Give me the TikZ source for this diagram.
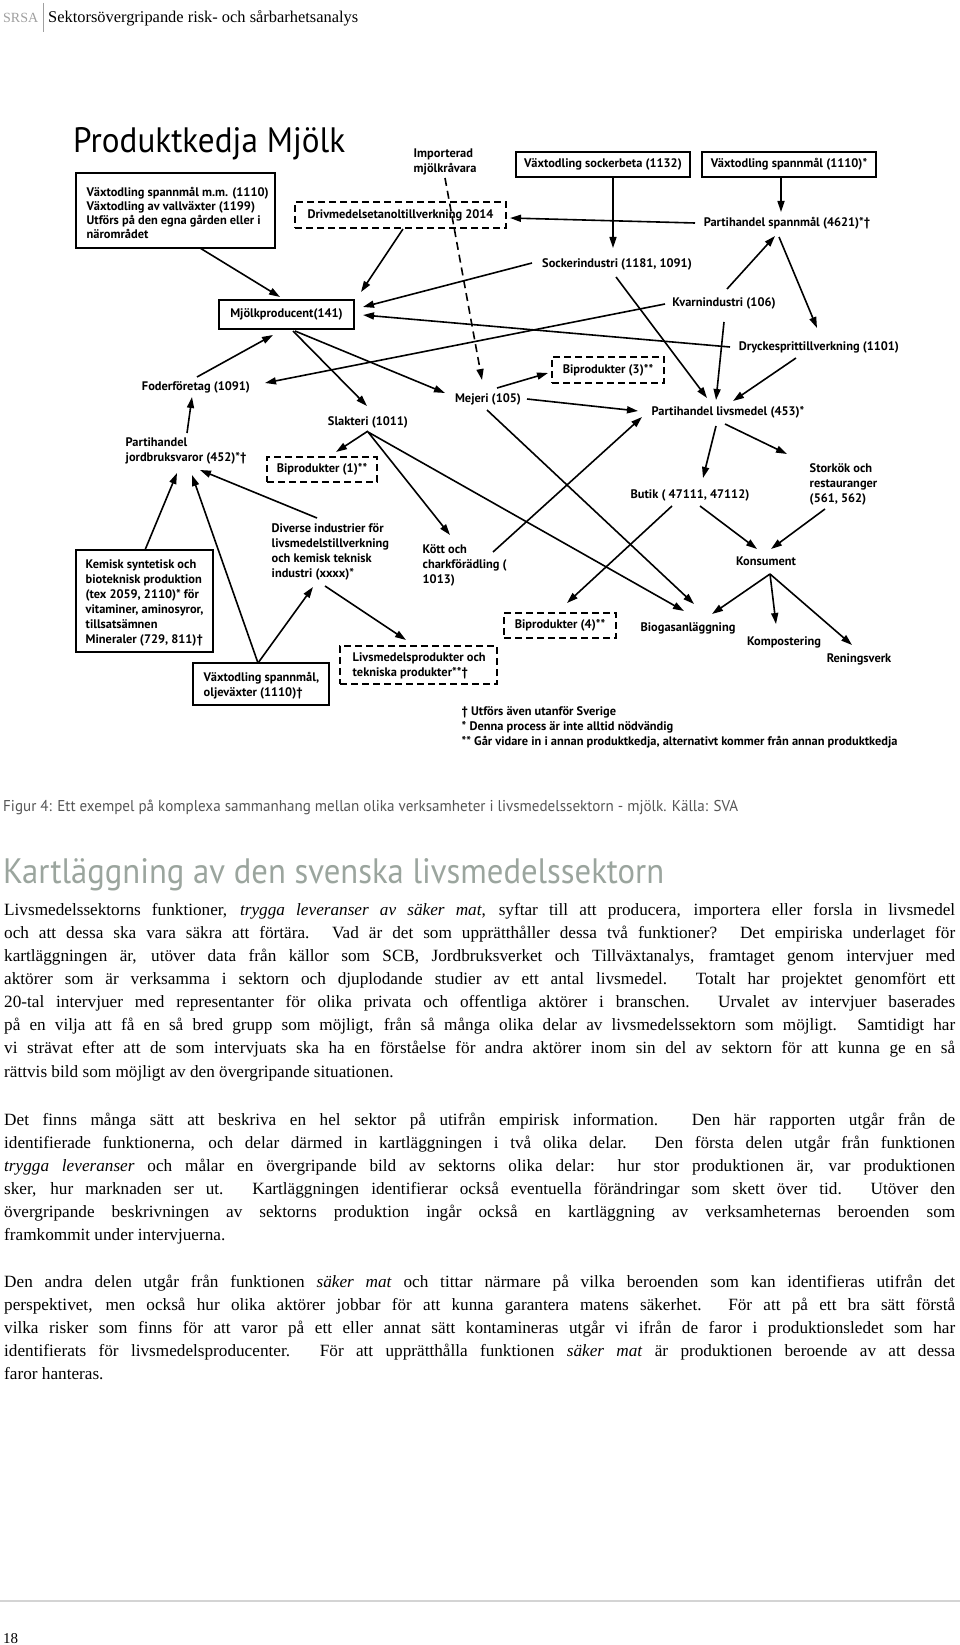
\documentclass[tikz,border=0pt]{standalone}
\usepackage{fontspec}
\usepackage{graphicx}
\setmainfont{Liberation Serif}
\setsansfont{PT Sans}
\usetikzlibrary{arrows.meta,calc}
\definecolor{hdgray}{HTML}{A0A0A0}
\definecolor{headgreen}{HTML}{9BA59E}
\definecolor{capgray}{HTML}{555555}
\definecolor{rulegray}{HTML}{D4D4D4}
\newcommand{\bodyline}[1]{\hbox to 951pt{\spaceskip=0.25em plus 2em minus 0.12em\relax #1}}
\newcommand{\lastline}[1]{\hbox to 951pt{#1\hfil}}
\begin{document}
\begin{tikzpicture}[x=1pt,y=-1pt,
  lbl/.style={font=\sffamily\bfseries\fontsize{12.4}{15}\selectfont, inner sep=0.5pt, align=center},
  lblL/.style={lbl, align=left, anchor=west},
  sbox/.style={draw, line width=1.8pt, inner sep=0pt},
  dbox/.style={draw, line width=1.8pt, dash pattern=on 7pt off 4pt, inner sep=0pt},
  arr/.style={line width=1.6pt, -{Triangle[length=11pt,width=7pt]}},
  darr/.style={arr, dash pattern=on 8pt off 5pt},
  body/.style={anchor=base west, inner sep=0pt, font=\fontsize{17.2}{23}\selectfont},
]
\useasboundingbox (0,0) rectangle (960,1645);
\fill[white] (0,0) rectangle (960,1645);

% ---------- header ----------
\node[anchor=base west, inner sep=0pt, text=hdgray, font=\fontsize{14}{14}\selectfont] (srsa) at (3,23) {\resizebox{35pt}{!}{SRSA}};
\draw[hdgray, line width=0.8pt] (43.5,3) -- (43.5,32);
\node[anchor=base west, inner sep=0pt, font=\fontsize{16}{16}\selectfont] (hdr) at (48,23) {\resizebox{310pt}{!}{Sektorsövergripande risk- och sårbarhetsanalys}};

% ---------- title ----------
\node[anchor=base west, inner sep=0pt] (title) at (73,153) {\resizebox{272pt}{25pt}{\sffamily\fontsize{36}{36}\selectfont Produktkedja Mjölk}};

% ---------- boxes ----------
\node[sbox, minimum width=199pt, minimum height=75pt] (b1) at (175.5,210.5) {};
\node[lblL, font=\sffamily\bfseries\fontsize{12.4}{13.7}\selectfont] (b1t) at (86,213) {Växtodling spannmål m.m. (1110)\\Växtodling av vallväxter (1199)\\Utförs på den egna gården eller i\\närområdet};

\node[sbox, lbl, minimum width=174pt, minimum height=25pt] (sock) at (603,164.5) {Växtodling sockerbeta (1132)};
\node[sbox, lbl, minimum width=174pt, minimum height=25pt] (spann) at (789,164.5) {Växtodling spannmål (1110)*};
\node[sbox, lbl, minimum width=135pt, minimum height=29pt] (mjolk) at (286.5,314.5) {Mjölkproducent(141)};

\node[sbox, minimum width=137pt, minimum height=102pt] (kemisk) at (144.5,601) {};
\node[lblL] (kemiskt) at (85,602.5) {Kemisk syntetisk och\\bioteknisk produktion\\(tex 2059, 2110)* för\\vitaminer, aminosyror,\\tillsatsämnen\\Mineraler (729, 811)†};

\node[sbox, minimum width=136pt, minimum height=42pt] (olje) at (261,684) {};
\node[lblL] (oljet) at (203,685.5) {Växtodling spannmål,\\oljeväxter (1110)†};

\node[dbox, lbl, minimum width=211pt, minimum height=26pt] (driv) at (400.5,215) {Drivmedelsetanoltillverkning 2014};
\node[dbox, lbl, minimum width=112pt, minimum height=26pt] (bip3) at (608,370) {Biprodukter (3)**};
\node[dbox, lbl, minimum width=110pt, minimum height=25pt] (bip1) at (322,469.5) {Biprodukter (1)**};
\node[dbox, lbl, minimum width=112pt, minimum height=25pt] (bip4) at (560,625.5) {Biprodukter (4)**};
\node[dbox, minimum width=157pt, minimum height=38pt] (livs) at (418.5,665) {};
\node[lblL] (livst) at (352,665.5) {Livsmedelsprodukter och\\tekniska produkter**†};

% ---------- text nodes ----------
\node[lblL] (imp) at (413,162) {Importerad\\mjölkråvara};
\node[lbl] (sockind) at (617,264) {Sockerindustri (1181, 1091)};
\node[lbl] (partsp) at (787,223) {Partihandel spannmål (4621)*†};
\node[lbl] (kvarn) at (724,303) {Kvarnindustri (106)};
\node[lbl] (dryck) at (819,347) {Dryckesprittillverkning (1101)};
\node[lbl] (foder) at (196,387) {Foderföretag (1091)};
\node[lbl] (mejeri) at (488,399) {Mejeri (105)};
\node[lbl] (slakt) at (368,422) {Slakteri (1011)};
\node[lbl] (partliv) at (728,412) {Partihandel livsmedel (453)*};
\node[lblL] (pjord) at (125,450.5) {Partihandel\\jordbruksvaror (452)*†};
\node[lbl] (butik) at (690,495) {Butik ( 47111, 47112)};
\node[lblL] (stork) at (809,484) {Storkök och\\restauranger\\(561, 562)};
\node[lblL] (diverse) at (271,551.5) {Diverse industrier för\\livsmedelstillverkning\\och kemisk teknisk\\industri (xxxx)*};
\node[lblL] (kott) at (422,565) {Kött och\\charkförädling (\\1013)};
\node[lbl] (konsument) at (766,561) {Konsument};
\node[lbl] (biogas) at (688,628) {Biogasanläggning};
\node[lbl] (kompost) at (784,642) {Kompostering};
\node[lbl] (rening) at (859,659) {Reningsverk};
\node[lblL] (fotnot) at (461,727) {† Utförs även utanför Sverige\\* Denna process är inte alltid nödvändig\\** Går vidare in i annan produktkedja, alternativt kommer från annan produktkedja};

% ---------- connectors ----------
\draw[arr] ($(b1)+(24.5,37.5)$) -- ($(mjolk)+(-6.5,-17.5)$);
\draw[arr] ($(driv)+(2.5,14)$) -- ($(mjolk)+(74.5,-22.5)$);
\draw[darr] ($(imp.west)+(32,16)$) -- ($(mejeri)+(-6,-19)$);
\draw[arr] ($(sock)+(10,12.5)$) -- ($(sockind)+(-4,-16)$);
\draw[arr] ($(spann)+(-8,12.5)$) -- ($(partsp)+(-6,-11)$);
\draw[arr] ($(partsp)+(-92,0)$) -- ($(driv)+(109.5,3)$);
\draw[arr] ($(kvarn)+(3,-14)$) -- ($(partsp)+(-12,13)$);
\draw[arr] ($(partsp)+(-8,14)$) -- ($(dryck)+(-2,-19)$);
\draw[arr] ($(sockind)+(-85,-1)$) -- ($(mjolk)+(76.5,-7.5)$);
\draw[arr] ($(dryck)+(-89,0)$) -- ($(mjolk)+(76.5,0.5)$);
\draw[arr] ($(kvarn)+(-59,1)$) -- ($(foder)+(69,-4)$);
\draw[arr] ($(sockind)+(-1,13)$) -- ($(partliv)+(-21,-14)$);
\draw[arr] ($(kvarn)+(0,19)$) -- ($(partliv)+(-12,-12)$);
\draw[arr] ($(dryck)+(-23,11)$) -- ($(partliv)+(5,-11)$);
\draw[arr] ($(mejeri)+(9,-11)$) -- ($(bip3)+(-60,3)$);
\draw[arr] ($(mejeri)+(39,0)$) -- ($(partliv)+(-90,-1)$);
\draw[arr] ($(kott.west)+(71,-13)$) -- ($(partliv)+(-86,5)$);
\draw[arr] ($(mejeri)+(-1,11)$) -- ($(biogas)+(6,-24)$);
\draw[arr] ($(partliv)+(-12,14)$) -- ($(butik)+(13,-17)$);
\draw[arr] ($(partliv)+(-3,12)$) -- ($(stork.west)+(-22,-30)$);
\draw[arr] ($(butik)+(10,11)$) -- ($(konsument)+(-9,-12)$);
\draw[arr] ($(stork.west)+(16,25)$) -- ($(konsument)+(5,-12)$);
\draw[arr] ($(butik)+(-18,11)$) -- ($(bip4)+(7,-22.5)$);
\draw[arr] ($(konsument)+(4,13)$) -- ($(biogas)+(24,-14)$);
\draw[arr] ($(konsument)+(4,13)$) -- ($(kompost)+(-8,-18)$);
\draw[arr] ($(konsument)+(4,13)$) -- ($(rening)+(-7,-14)$);
\draw[arr] ($(slakt)+(0,10)$) -- ($(biogas)+(-4,-17)$);
\draw[arr] ($(slakt)+(0,9)$) -- ($(bip1)+(14,-17.5)$);
\draw[arr] ($(slakt)+(0,10)$) -- ($(kott.west)+(28,-30)$);
\draw[arr] ($(mjolk)+(6.5,16.5)$) -- ($(slakt)+(-1,-16)$);
\draw[arr] ($(mjolk)+(8.5,16.5)$) -- ($(mejeri)+(-43,-6)$);
\draw[arr] ($(foder)+(1,-10)$) -- ($(mjolk)+(-13.5,20.5)$);
\draw[arr] ($(pjord.west)+(62,-17.5)$) -- ($(foder)+(-4,10)$);
\draw[arr] ($(kemisk)+(0.5,-51)$) -- ($(pjord.west)+(52,22.5)$);
\draw[arr] ($(olje)+(-3,-21)$) -- ($(pjord.west)+(67,24.5)$);
\draw[arr] ($(diverse.west)+(46,-33.5)$) -- ($(pjord.west)+(75,19.5)$);
\draw[arr] ($(olje)+(-3,-21)$) -- ($(diverse.west)+(42,35.5)$);
\draw[arr] ($(diverse.west)+(54,34.5)$) -- ($(livs)+(-12.5,-25)$);

% ---------- caption & heading ----------
\node[anchor=base west, inner sep=0pt, text=capgray] (caption) at (3,811) {\resizebox{735pt}{11.5pt}{\sffamily\fontsize{15}{15}\selectfont Figur 4: Ett exempel på komplexa sammanhang mellan olika verksamheter i livsmedelssektorn - mjölk. Källa: SVA}};
\node[anchor=base west, inner sep=0pt, text=headgreen] (heading) at (3,883) {\resizebox{661pt}{25pt}{\sffamily\fontsize{36}{36}\selectfont Kartläggning av den svenska livsmedelssektorn}};

% ---------- body text ----------
\node[body] (p1a) at (4,915) {\bodyline{Livsmedelssektorns funktioner, \textit{trygga leveranser av säker mat}, syftar till att producera, importera eller forsla in livsmedel}};
\node[body] (p1b) at (4,938.2) {\bodyline{och att dessa ska vara säkra att förtära. Vad är det som upprätthåller dessa två funktioner? Det empiriska underlaget för}};
\node[body] (p1c) at (4,961.3) {\bodyline{kartläggningen är, utöver data från källor som SCB, Jordbruksverket och Tillväxtanalys, framtaget genom intervjuer med}};
\node[body] (p1d) at (4,984.5) {\bodyline{aktörer som är verksamma i sektorn och djuplodande studier av ett antal livsmedel. Totalt har projektet genomfört ett}};
\node[body] (p1e) at (4,1007.6) {\bodyline{20-tal intervjuer med representanter för olika privata och offentliga aktörer i branschen. Urvalet av intervjuer baserades}};
\node[body] (p1f) at (4,1030.8) {\bodyline{på en vilja att få en så bred grupp som möjligt, från så många olika delar av livsmedelssektorn som möjligt. Samtidigt har}};
\node[body] (p1g) at (4,1053.9) {\bodyline{vi strävat efter att de som intervjuats ska ha en förståelse för andra aktörer inom sin del av sektorn för att kunna ge en så}};
\node[body] (p1h) at (4,1077.1) {\lastline{rättvis bild som möjligt av den övergripande situationen.}};

\node[body] (p2a) at (4,1125) {\bodyline{Det finns många sätt att beskriva en hel sektor på utifrån empirisk information. Den här rapporten utgår från de}};
\node[body] (p2b) at (4,1148.2) {\bodyline{identifierade funktionerna, och delar därmed in kartläggningen i två olika delar. Den första delen utgår från funktionen}};
\node[body] (p2c) at (4,1171.3) {\bodyline{\textit{trygga leveranser} och målar en övergripande bild av sektorns olika delar: hur stor produktionen är, var produktionen}};
\node[body] (p2d) at (4,1194.5) {\bodyline{sker, hur marknaden ser ut. Kartläggningen identifierar också eventuella förändringar som skett över tid. Utöver den}};
\node[body] (p2e) at (4,1217.6) {\bodyline{övergripande beskrivningen av sektorns produktion ingår också en kartläggning av verksamheternas beroenden som}};
\node[body] (p2f) at (4,1240.8) {\lastline{framkommit under intervjuerna.}};

\node[body] (p3a) at (4,1287) {\bodyline{Den andra delen utgår från funktionen \textit{säker mat} och tittar närmare på vilka beroenden som kan identifieras utifrån det}};
\node[body] (p3b) at (4,1310.2) {\bodyline{perspektivet, men också hur olika aktörer jobbar för att kunna garantera matens säkerhet. För att på ett bra sätt förstå}};
\node[body] (p3c) at (4,1333.3) {\bodyline{vilka risker som finns för att varor på ett eller annat sätt kontamineras utgår vi ifrån de faror i produktionsledet som har}};
\node[body] (p3d) at (4,1356.5) {\bodyline{identifierats för livsmedelsproducenter. För att upprätthålla funktionen \textit{säker mat} är produktionen beroende av att dessa}};
\node[body] (p3e) at (4,1379.6) {\lastline{faror hanteras.}};

% ---------- footer ----------
\draw[rulegray, line width=2pt] (0,1601) -- (960,1601);
\node[anchor=base west, inner sep=0pt, font=\fontsize{15}{15}\selectfont] (pageno) at (3,1643) {18};
\end{tikzpicture}
\end{document}
